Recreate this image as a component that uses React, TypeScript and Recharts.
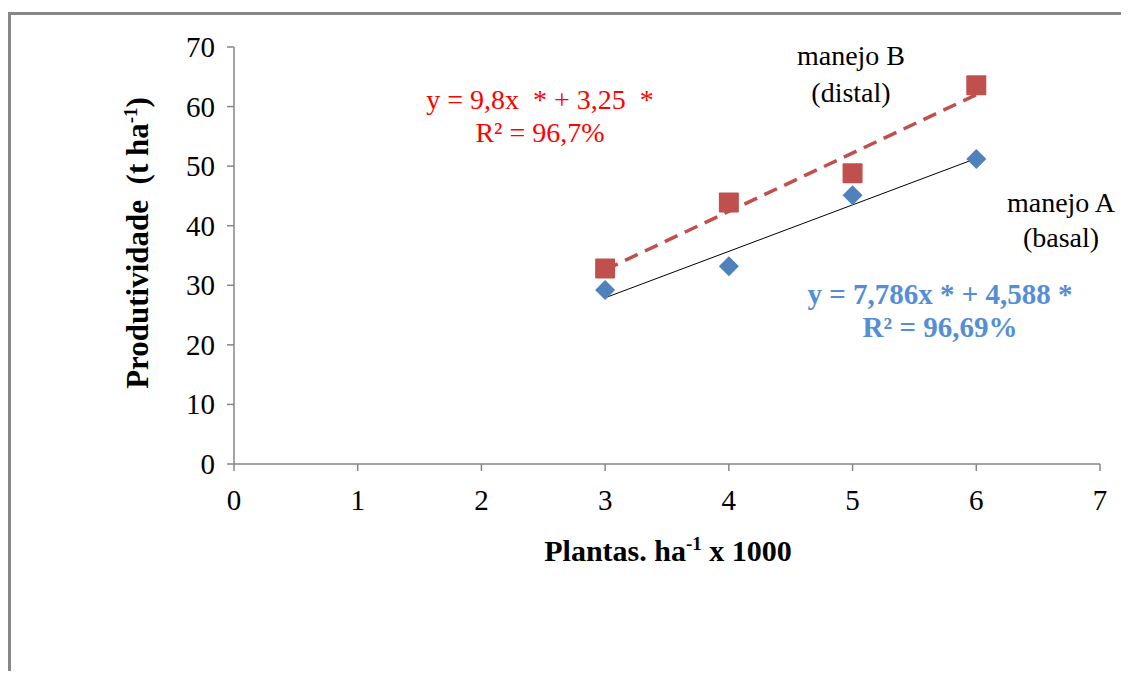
import { ScatterChart, Scatter, XAxis, YAxis } from "recharts";

// manejo A (basal) - blue diamonds
const manejoA = [
  { x: 3, y: 29.2 },
  { x: 4, y: 33.2 },
  { x: 5, y: 45.1 },
  { x: 6, y: 51.2 },
];

// manejo B (distal) - red squares
const manejoB = [
  { x: 3, y: 32.8 },
  { x: 4, y: 43.9 },
  { x: 5, y: 48.8 },
  { x: 6, y: 63.6 },
];

// fitted trend lines, end points
const trendA = [
  { x: 3, y: 27.9 },
  { x: 6, y: 51.3 },
];
const trendB = [
  { x: 3, y: 32.6 },
  { x: 6, y: 62.0 },
];

const xTicks = [0, 1, 2, 3, 4, 5, 6, 7];
const yTicks = [0, 10, 20, 30, 40, 50, 60, 70];

const FONT = "'Liberation Serif', 'Times New Roman', serif";
const AXIS_GREY = "#868686";
const RED = "#c0504d";
const BLUE = "#4f81bd";

const Diamond = (props: any) => {
  const { cx, cy } = props;
  const r = 10;
  return (
    <path
      d={`M${cx},${cy - r} L${cx + r},${cy} L${cx},${cy + r} L${cx - r},${cy} Z`}
      fill={BLUE}
    />
  );
};

const Square = (props: any) => {
  const { cx, cy } = props;
  return <rect x={cx - 10} y={cy - 10} width={20} height={20} rx={1} fill={RED} />;
};

const NoDot = () => null;

const XTick = ({ x, y, payload }: any) => (
  <text x={x} y={y + 35} textAnchor="middle" fontFamily={FONT} fontSize={29} fill="#000">
    {payload.value}
  </text>
);

const YTick = ({ x, y, payload }: any) => (
  <text x={x - 2} y={y + 10} textAnchor="end" fontFamily={FONT} fontSize={29} fill="#000">
    {payload.value}
  </text>
);

export default function App() {
  return (
    <div style={{ position: "relative", width: 1121, height: 663, fontFamily: FONT }}>
      <div
        style={{
          position: "absolute",
          top: 4,
          left: 0,
          right: 0,
          bottom: 0,
          borderTop: "3px solid #878787",
          borderLeft: "3px solid #878787",
        }}
      />
      <div style={{ position: "absolute", top: 0, left: 0 }}>
        <ScatterChart
          width={1121}
          height={660}
          margin={{ top: 39, right: 29, left: 166, bottom: 164 }}
        >
          <XAxis
            type="number"
            dataKey="x"
            domain={[0, 7]}
            ticks={xTicks}
            interval={0}
            height={40}
            stroke={AXIS_GREY}
            strokeWidth={1.5}
            tickSize={7}
            tickMargin={4}
            tick={<XTick />}
          />
          <YAxis
            type="number"
            dataKey="y"
            domain={[0, 70]}
            ticks={yTicks}
            interval={0}
            width={60}
            stroke={AXIS_GREY}
            strokeWidth={1.5}
            tickSize={7}
            tickMargin={10}
            tick={<YTick />}
          />
          <Scatter
            data={trendA}
            line={{ stroke: "#000", strokeWidth: 1 }}
            shape={NoDot}
            isAnimationActive={false}
          />
          <Scatter
            data={trendB}
            line={{ stroke: RED, strokeWidth: 3.5, strokeDasharray: "14 8" }}
            shape={NoDot}
            isAnimationActive={false}
          />
          <Scatter data={manejoA} shape={Diamond} isAnimationActive={false} />
          <Scatter data={manejoB} shape={Square} isAnimationActive={false} />
        </ScatterChart>
      </div>

      {/* axis titles */}
      <div
        style={{
          position: "absolute",
          left: 130,
          top: 235,
          transform: "translate(-50%, -50%) rotate(-90deg)",
          whiteSpace: "nowrap",
          fontWeight: "bold",
          fontSize: 31,
        }}
      >
        Produtividade&nbsp;&nbsp;(t ha<sup style={{ fontSize: 19 }}>-1</sup>)
      </div>
      <div
        style={{
          position: "absolute",
          left: 660,
          top: 542,
          transform: "translate(-50%, -50%)",
          whiteSpace: "nowrap",
          fontWeight: "bold",
          fontSize: 30,
        }}
      >
        Plantas. ha<sup style={{ fontSize: 19 }}>-1</sup> x 1000
      </div>

      {/* series labels */}
      <div
        style={{
          position: "absolute",
          left: 843,
          top: 29,
          transform: "translateX(-50%)",
          textAlign: "center",
          whiteSpace: "nowrap",
          fontSize: 28,
          lineHeight: "37px",
        }}
      >
        manejo B<br />(distal)
      </div>
      <div
        style={{
          position: "absolute",
          left: 1053,
          top: 177,
          transform: "translateX(-50%)",
          textAlign: "center",
          whiteSpace: "nowrap",
          fontSize: 28,
          lineHeight: "35px",
        }}
      >
        manejo A<br />(basal)
      </div>

      {/* regression equations */}
      <div
        style={{
          position: "absolute",
          left: 532,
          top: 75,
          transform: "translateX(-50%)",
          textAlign: "center",
          whiteSpace: "nowrap",
          fontSize: 28,
          lineHeight: "33px",
          color: "#ff0000",
        }}
      >
        y = 9,8x&nbsp; * + 3,25&nbsp; *<br />R² = 96,7%
      </div>
      <div
        style={{
          position: "absolute",
          left: 932,
          top: 270,
          transform: "translateX(-50%)",
          textAlign: "center",
          whiteSpace: "nowrap",
          fontSize: 29,
          fontWeight: "bold",
          lineHeight: "33px",
          color: "#558ed5",
        }}
      >
        y = 7,786x * + 4,588 *<br />R² = 96,69%
      </div>
    </div>
  );
}
